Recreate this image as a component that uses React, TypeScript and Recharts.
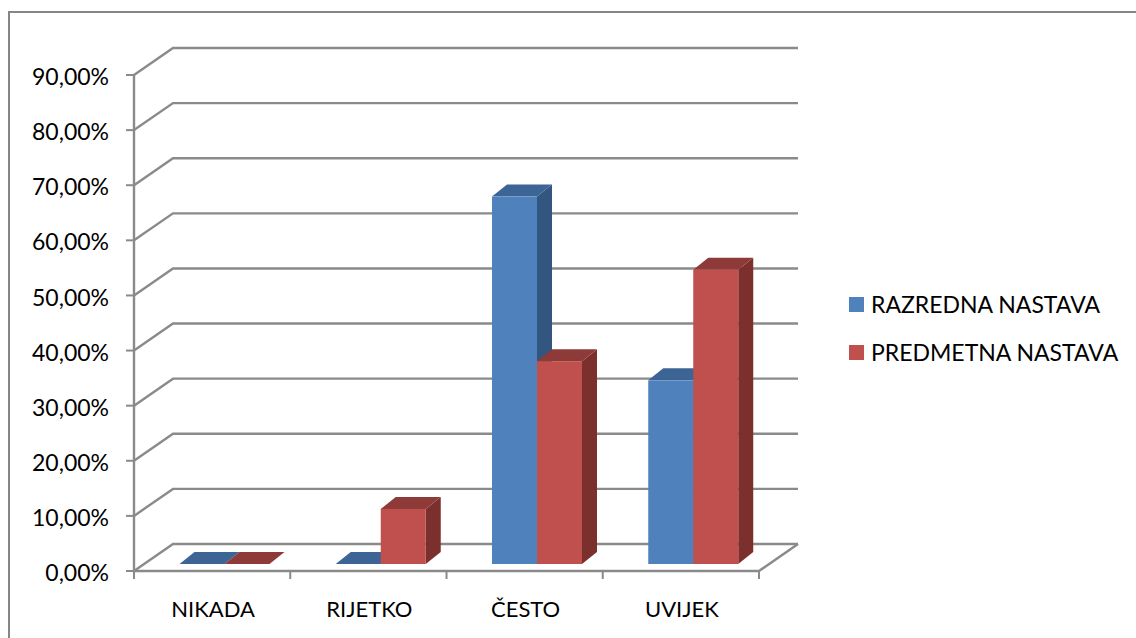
import { BarChart, Bar, XAxis, YAxis, CartesianGrid, Legend } from 'recharts';

const categories = ['NIKADA', 'RIJETKO', 'ČESTO', 'UVIJEK'];
const razredna = [0, 0, 66.67, 33.33];
const predmetna = [0, 10, 36.8, 53.4];
const yTicks = [0, 10, 20, 30, 40, 50, 60, 70, 80, 90];

const chartData = categories.map((name, i) => ({ name, razredna: razredna[i], predmetna: predmetna[i] }));

const AXIS = '#8a8a8a';
const WALL_DX = 39;
const WALL_DY = 27;
const BAR_DX = 15;
const BAR_DY = 12;
const BAND = 625 / categories.length;

const formatPct = (v: number) => v.toFixed(2).replace('.', ',') + '%';

// back wall line with its diagonal down to the y axis
function wallLine(props: any) {
  const { x1, y1, x2, index } = props;
  return (
    <g key={`wall-${index}`} fill="none" stroke={AXIS} strokeWidth={2.4}>
      <polyline points={`${x1},${y1} ${x1 + WALL_DX},${y1 - WALL_DY} ${x2 + WALL_DX},${y1 - WALL_DY}`} />
      {index === 0 && <polyline points={`${x1},${y1} ${x2},${y1} ${x2 + WALL_DX},${y1 - WALL_DY}`} />}
    </g>
  );
}

function box3d(front: string, side: string, top: string) {
  return (props: any) => {
    const x = props.x + 12.5;
    const y = props.y - 7;
    const { width, height } = props;
    return (
      <g>
        <polygon fill={side} points={`${x + width},${y} ${x + width + BAR_DX},${y - BAR_DY} ${x + width + BAR_DX},${y + height - BAR_DY} ${x + width},${y + height}`} />
        <polygon fill={top} points={`${x},${y} ${x + BAR_DX},${y - BAR_DY} ${x + width + BAR_DX},${y - BAR_DY} ${x + width},${y}`} />
        <rect x={x} y={y} width={width} height={height} fill={front} />
      </g>
    );
  };
}

function CategoryTick(props: any) {
  const { x, y, payload, index } = props;
  const left = x - BAND / 2;
  return (
    <g>
      <line x1={left} y1={y - 8} x2={left} y2={y} stroke={AXIS} strokeWidth={2} />
      {index === categories.length - 1 && (
        <line x1={left + BAND} y1={y - 8} x2={left + BAND} y2={y} stroke={AXIS} strokeWidth={2} />
      )}
      <text x={x + 1} y={y + 38} textAnchor="middle" fontSize={22} fill="#000">
        {payload.value}
      </text>
    </g>
  );
}

function LegendBlock({ payload }: any) {
  return (
    <div>
      {(payload || []).map((item: any) => (
        <div key={item.value} style={{ display: 'flex', alignItems: 'center', height: 48, fontSize: 23, color: '#000', whiteSpace: 'nowrap' }}>
          <span style={{ width: 15, height: 15, background: item.color, marginRight: 7 }} />
          {item.value}
        </div>
      ))}
    </div>
  );
}

export default function App() {
  return (
    <div style={{ position: 'absolute', left: 0, top: 0, width: 1136, height: 638, overflow: 'hidden', background: '#fff', fontFamily: 'Lato' }}>
      <div style={{ position: 'absolute', left: 8, top: 11, right: 0, bottom: 0, borderLeft: '2px solid #868686', borderTop: '2px solid #868686' }} />
      <BarChart
        width={1136}
        height={638}
        data={chartData}
        margin={{ top: 75, right: 92, bottom: 0, left: 0 }}
        barSize={45}
        barGap={0}
        style={{ position: 'absolute', left: 0, top: 0 }}
      >
        <CartesianGrid vertical={false} horizontal={wallLine} />
        <XAxis dataKey="name" height={67} tickLine={false} axisLine={false} interval={0} tick={<CategoryTick />} />
        <YAxis
          width={134}
          domain={[0, 90]}
          ticks={yTicks}
          interval={0}
          tickFormatter={formatPct}
          tickSize={8}
          tickMargin={17}
          axisLine={{ stroke: AXIS, strokeWidth: 2.4 }}
          tickLine={{ stroke: AXIS, strokeWidth: 2 }}
          tick={{ fontSize: 23, fill: '#000', dy: 2 }}
        />
        <Legend
          layout="vertical"
          align="right"
          verticalAlign="top"
          itemSorter={null}
          wrapperStyle={{ left: 849, top: 280, width: 285 }}
          content={<LegendBlock />}
        />
        <Bar dataKey="razredna" name="RAZREDNA NASTAVA" fill="#4f81bd" isAnimationActive={false} shape={box3d('#4f81bd', '#325680', '#3c6494')} />
        <Bar dataKey="predmetna" name="PREDMETNA NASTAVA" fill="#c0504d" isAnimationActive={false} shape={box3d('#c0504d', '#7b302e', '#8e3a38')} />
      </BarChart>
    </div>
  );
}
